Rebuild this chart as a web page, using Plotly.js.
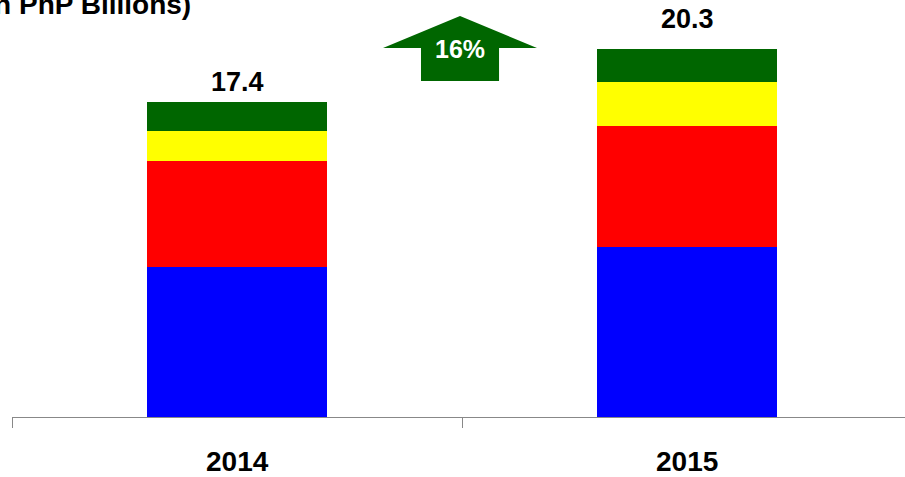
<!DOCTYPE html>
<html><head><meta charset="utf-8">
<script src="https://cdn.plot.ly/plotly-3.0.1.min.js"></script>
<style>html,body{margin:0;padding:0;background:#fff;}#chart{width:905px;height:477px;}</style>
</head><body><div id="chart"></div>
<script>
const years = ['2014', '2015'];
const blueVals = [8.26, 9.4];
const redVals = [5.89, 6.64];
const yellowVals = [1.65, 2.43];
const greenVals = [1.6, 1.83];
const totals = [17.4, 20.3];
const growthLabel = '16%';
const unitTitle = '(in PhP Billions)';

const W = 905, H = 477, ML = 12, MT = 0, MB = 60;
const PW = W - ML, PH = H - MT - MB;
const PXU = 18.12;
const px = x => (x - ML) / PW;
const py = y => (H - MB - y) / PH;

const mk = (vals, color) => ({
  type: 'bar', x: years, y: vals, marker: {color: color, line: {width: 0}},
  hoverinfo: 'none', showlegend: false
});
const traces = [
  mk(blueVals, '#0000FF'),
  mk(redVals, '#FF0000'),
  mk(yellowVals, '#FFFF00'),
  mk(greenVals, '#006600')
];

const arrowPath = [
  [383, 48], [460, 16], [537, 48], [499, 48], [499, 81], [421, 81], [421, 48]
].map((p, i) => (i ? 'L' : 'M') + px(p[0]).toFixed(4) + ',' + py(p[1]).toFixed(4)).join(' ') + ' Z';

const labelShift = [20, 30];
const annotations = [];
years.forEach((yr, i) => {
  annotations.push({xref: 'x', yref: 'y', x: i, y: totals[i], yshift: labelShift[i],
    text: '<b>' + totals[i].toFixed(1) + '</b>', showarrow: false, yanchor: 'middle',
    font: {family: 'Liberation Sans, Arial', size: 27, color: '#000'}});
  annotations.push({xref: 'x', yref: 'paper', x: i, y: py(461), text: '<b>' + yr + '</b>', showarrow: false,
    font: {family: 'Liberation Sans, Arial', size: 28, color: '#000'}, yanchor: 'middle'});
});
annotations.push({xref: 'paper', yref: 'paper', x: px(193), y: py(4), xanchor: 'right', yanchor: 'middle',
  text: '<b>' + unitTitle + '</b>', showarrow: false,
  font: {family: 'Liberation Sans, Arial', size: 28, color: '#000'}});
annotations.push({xref: 'paper', yref: 'paper', x: px(460), y: py(49), xanchor: 'center', yanchor: 'middle',
  text: '<b>' + growthLabel + '</b>', showarrow: false,
  font: {family: 'Liberation Sans, Arial', size: 25, color: '#fff'}});

const layout = {
  width: W, height: H,
  margin: {l: ML, r: 0, t: MT, b: MB},
  paper_bgcolor: '#fff', plot_bgcolor: '#fff',
  barmode: 'stack', bargap: 0.6,
  xaxis: {type: 'category', range: [-0.5, -0.5 + PW / 450], showgrid: false, zeroline: false,
    showline: true, linecolor: '#888', linewidth: 1,
    ticks: 'outside', ticklen: 10, tickcolor: '#888', tickson: 'boundaries', showticklabels: false,
    fixedrange: true},
  yaxis: {range: [0, PH / PXU], visible: false, fixedrange: true},
  shapes: [{type: 'path', xref: 'paper', yref: 'paper', path: arrowPath,
    fillcolor: '#006600', line: {width: 0}, layer: 'above'}],
  annotations: annotations
};
Plotly.newPlot('chart', traces, layout, {displayModeBar: false, staticPlot: true});
</script></body></html>
